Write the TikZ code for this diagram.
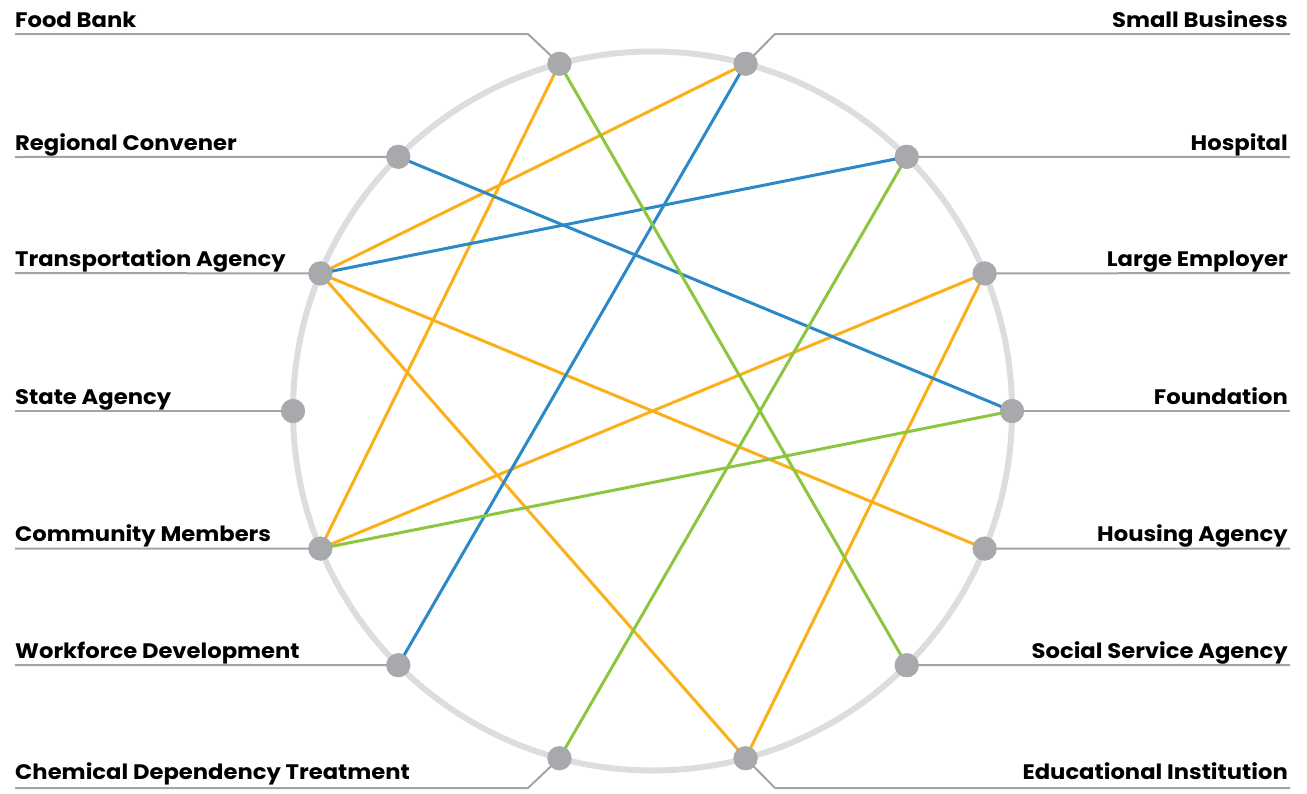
\documentclass[tikz,border=0pt]{standalone}
\usepackage{fontspec}
\setmainfont{Poppins}[FakeStretch=1.08]
\definecolor{ringgray}{HTML}{DCDDDE}
\definecolor{dotgray}{HTML}{A7A9AC}
\definecolor{leadgray}{HTML}{A3A4A7}
\definecolor{linkorange}{HTML}{FBB01B}
\definecolor{linkblue}{HTML}{2B8AC6}
\definecolor{linkgreen}{HTML}{8CC63F}
\tikzset{
  lbl/.style={font=\fontsize{21}{24}\selectfont\bfseries, inner sep=0pt},
  leader/.style={draw=leadgray, line width=2pt},
  link/.style={line width=3pt},
}
\begin{document}
\begin{tikzpicture}[x=1pt,y=-1pt]
      \useasboundingbox (0,0) rectangle (1307,793);
      \draw[ringgray, line width=6pt] (652.5,411) circle[radius=359.5pt];
      % labels, left
      \node[lbl, anchor=base west] (fbl) at (15,27) {Food Bank};
      \node[lbl, anchor=base west] (rcl) at (15,150) {Regional Convener};
      \node[lbl, anchor=base west] (tal) at (15,266) {Transportation Agency};
      \node[lbl, anchor=base west] (sal) at (15,404) {State Agency};
      \node[lbl, anchor=base west] (cml) at (15,541) {Community Members};
      \node[lbl, anchor=base west] (wdl) at (15,658) {Workforce Development};
      \node[lbl, anchor=base west] (cdl) at (15,779) {Chemical Dependency Treatment};
      % labels, right
      \node[lbl, anchor=base east] (sbl) at (1288,27) {Small Business};
      \node[lbl, anchor=base east] (hol) at (1288,150) {Hospital};
      \node[lbl, anchor=base east] (lel) at (1288,266) {Large Employer};
      \node[lbl, anchor=base east] (fol) at (1288,404) {Foundation};
      \node[lbl, anchor=base east] (hal) at (1288,541) {Housing Agency};
      \node[lbl, anchor=base east] (ssl) at (1288,658) {Social Service Agency};
      \node[lbl, anchor=base east] (eil) at (1288,779) {Educational Institution};
      \begin{scope}[shift={(652.5,411)}, every node/.style={circle,fill=dotgray,minimum size=24pt,inner sep=0pt}]
        \node (fb) at (105:359.5pt) {};
        \node (sb) at (75:359.5pt) {};
        \node (rc) at (135:359.5pt) {};
        \node (ho) at (45:359.5pt) {};
        \node (ta) at (157.5:359.5pt) {};
        \node (le) at (22.5:359.5pt) {};
        \node (sa) at (180:359.5pt) {};
        \node (fo) at (0:359.5pt) {};
        \node (cm) at (-157.5:359.5pt) {};
        \node (ha) at (-22.5:359.5pt) {};
        \node (wd) at (-135:359.5pt) {};
        \node (ss) at (-45:359.5pt) {};
        \node (cd) at (-105:359.5pt) {};
        \node (ei) at (-75:359.5pt) {};
      \end{scope}
      % leader lines
      \coordinate (fb0) at (15,34);   \coordinate (fb1) at (528,34);
      \coordinate (cd0) at (15,788);  \coordinate (cd1) at (528,788);
      \coordinate (sb0) at (1290,34); \coordinate (sb1) at (775,34);
      \coordinate (ei0) at (1290,788);\coordinate (ei1) at (775,788);
      \coordinate (rc0) at (15,157);  \coordinate (ho0) at (1290,157);
      \coordinate (ta0) at (15,273);  \coordinate (le0) at (1290,273);
      \coordinate (sa0) at (15,411);  \coordinate (fo0) at (1290,411);
      \coordinate (cm0) at (15,548.6);\coordinate (ha0) at (1290,548.6);
      \coordinate (wd0) at (15,665);  \coordinate (ss0) at (1290,665);
      \path[leader] (fb0) -- (fb1) -- (fb.center);
      \path[leader] (cd0) -- (cd1) -- (cd.center);
      \path[leader] (sb0) -- (sb1) -- (sb.center);
      \path[leader] (ei0) -- (ei1) -- (ei.center);
      \path[leader] (rc0) -- (rc.center);
      \path[leader] (ta0) -- (ta.center);
      \path[leader] (sa0) -- (sa.center);
      \path[leader] (cm0) -- (cm.center);
      \path[leader] (wd0) -- (wd.center);
      \path[leader] (ho0) -- (ho.center);
      \path[leader] (le0) -- (le.center);
      \path[leader] (fo0) -- (fo.center);
      \path[leader] (ha0) -- (ha.center);
      \path[leader] (ss0) -- (ss.center);
      \begin{scope}[every edge/.style={draw,link}]
        \path[linkorange] (fb.center) edge (cm.center);
        \path[linkorange] (sb.center) edge (ta.center);
        \path[linkorange] (ta.center) edge (ha.center);
        \path[linkorange] (ta.center) edge (ei.center);
        \path[linkorange] (le.center) edge (cm.center);
        \path[linkorange] (le.center) edge (ei.center);
        \path[linkblue] (sb.center) edge (wd.center);
        \path[linkblue] (rc.center) edge (fo.center);
        \path[linkblue] (ho.center) edge (ta.center);
        \path[linkgreen] (fb.center) edge (ss.center);
        \path[linkgreen] (ho.center) edge (cd.center);
        \path[linkgreen] (fo.center) edge (cm.center);
      \end{scope}
      % dots again, over the links
      \foreach \d in {fb,sb,rc,ho,ta,le,sa,fo,cm,ha,wd,ss,cd,ei}
        \fill[dotgray] (\d) circle[radius=12pt];
\end{tikzpicture}
\end{document}
